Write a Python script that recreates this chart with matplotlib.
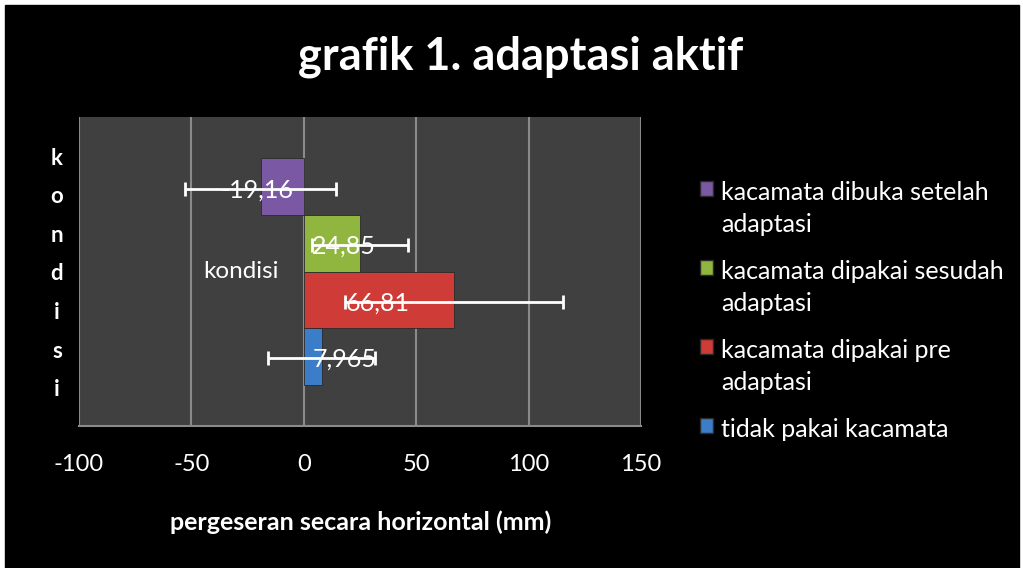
import matplotlib.pyplot as plt
from matplotlib.patches import Rectangle, Patch

plt.rcParams['font.family'] = ['Lato', 'DejaVu Sans']

# data, bottom -> top as drawn
series = ['tidak pakai kacamata', 'kacamata dipakai pre\nadaptasi',
          'kacamata dipakai sesudah\nadaptasi', 'kacamata dibuka setelah\nadaptasi']
values = [7.965, 66.81, 24.85, -19.16]
errors = [23.7, 48.7, 21.4, 33.6]
labels = ['7,965', '66,81', '24,85', '-19,16']
colors = ['#3b7dc8', '#cf3b37', '#90b63f', '#7a58a4']
xticks = [-100, -50, 0, 50, 100, 150]

# where the data labels sit (x in data units)
label_x = [18, 33, 18, -21]
offsets = [-0.2745, -0.0915, 0.0915, 0.2745]
bar_h = 0.183

fig = plt.figure(figsize=(10.23, 5.68), dpi=100, facecolor='white')
fig.patches.append(Rectangle((5 / 1023, 0), 1014 / 1023, 563 / 568,
                             transform=fig.transFigure, color='black', zorder=-10))

ax = fig.add_axes([79 / 1023, 1 - 426 / 568, 562 / 1023, 309 / 568])
ax.set_facecolor('#404040')

for i in range(len(values)):
    ax.barh(offsets[i], values[i], height=bar_h, color=colors[i],
            edgecolor='#2a2a2a', linewidth=0.6, zorder=3)
    ax.errorbar(values[i], offsets[i] - 0.006, xerr=errors[i], fmt='none',
                ecolor='white', elinewidth=2, capsize=5, capthick=2, zorder=4)
    ax.text(label_x[i], offsets[i] - 0.01, labels[i], color='white', fontsize=18,
            ha='center', va='center', zorder=5)

ax.text(-11, 0, 'kondisi', color='white', fontsize=17.5, ha='right', va='center')

ax.set_xlim(-100, 150)
ax.set_ylim(-0.5, 0.5)
ax.set_xticks(xticks)
ax.set_xticklabels([str(t) for t in xticks], color='white', fontsize=17)
ax.set_yticks([])
ax.tick_params(axis='x', length=0, pad=20)
ax.grid(axis='x', color='#8a8a8a', linewidth=1.5, zorder=1)
for s in ['top', 'right', 'left']:
    ax.spines[s].set_visible(False)
ax.spines['bottom'].set_color('#8a8a8a')
ax.spines['bottom'].set_linewidth(1.5)

fig.text(0.509, 1 - 57 / 568, 'grafik 1. adaptasi aktif', color='white',
         fontsize=32.5, fontweight='bold', ha='center', va='center')
fig.text(0.353, 1 - 522 / 568, 'pergeseran secara horizontal (mm)', color='white',
         fontsize=18, fontweight='bold', ha='center', va='center')
fig.text(57 / 1023, 1 - 274 / 568, '\n'.join('kondisi'), color='white',
         fontsize=16, fontweight='bold', ha='center', va='center', linespacing=2.03)

handles = [Patch(facecolor=colors[i], edgecolor='#2a2a2a') for i in range(3, -1, -1)]
leg = fig.legend(handles, [series[i] for i in range(3, -1, -1)],
                 loc='upper left', bbox_to_anchor=(687 / 1023, 1 - 168 / 568),
                 frameon=False, fontsize=18, labelcolor='white',
                 handlelength=0.55, handleheight=0.55, handletextpad=0.3,
                 labelspacing=0.95, borderpad=0)
for t in leg.get_texts():
    t.set_linespacing(1.5)
# marker next to the first line of each entry
for col in leg._legend_handle_box.get_children():
    for row in col.get_children():
        row.align = 'top'

fig.savefig('out.png', dpi=100, facecolor=fig.get_facecolor())
